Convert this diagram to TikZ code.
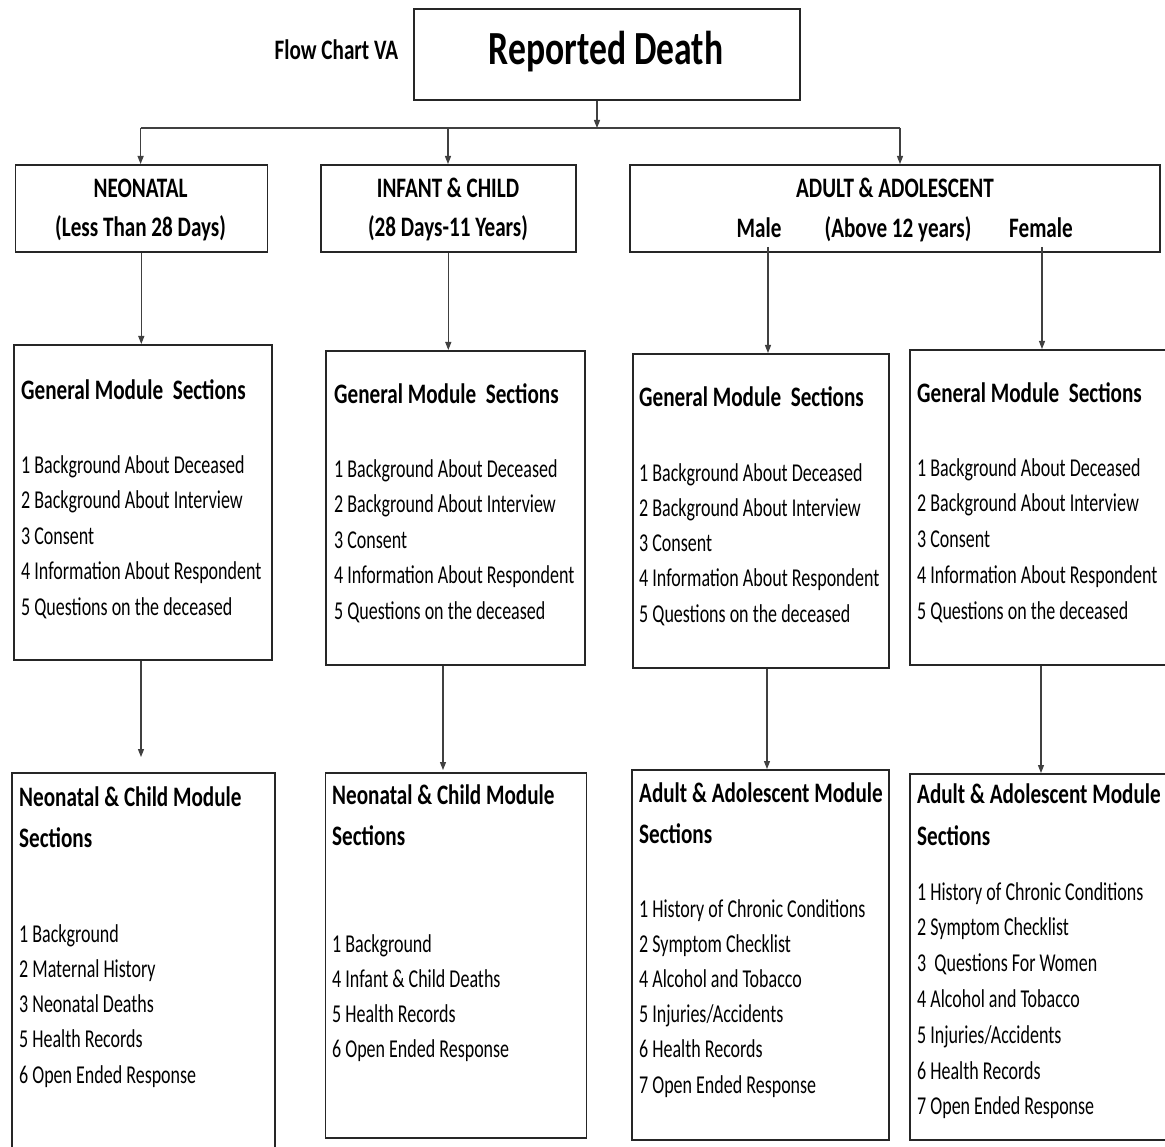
\documentclass[tikz,border=0pt]{standalone}
\usepackage{fontspec}
\setmainfont[FakeStretch=0.75]{Carlito}
\newfontfamily\itemfont[FakeStretch=0.70]{Carlito}
\usetikzlibrary{arrows.meta}
\tikzset{
  boxline/.style={draw=black!85, line width=1.6pt, inner sep=0pt, anchor=north west},
  conn/.style={draw=black!75, line width=1.1pt},
  arr/.style={conn, -{Triangle[length=8pt,width=6pt]}},
  itemtxt/.style={inner sep=0pt, anchor=base west, font=\itemfont\fontsize{25.7}{30}\selectfont},
  headtxt/.style={inner sep=0pt, anchor=base, font=\bfseries\fontsize{28.2}{34}\selectfont},
  titletxt/.style={inner sep=0pt, anchor=base west, font=\bfseries\fontsize{28.2}{34}\selectfont},
}
\newcommand\itemlist[5]{%
  \foreach \t [count=\i] in #5 {\node[itemtxt] (#1-\i) at ({#2},{#3+#4*(\i-1)}) {\t};}}
\def\gmitems{1 Background About Deceased, 2 Background About Interview, 3 Consent, 4 Information About Respondent, 5 Questions on the deceased}
\def\bitemsA{1 Background, 2 Maternal History, 3 Neonatal Deaths, 5 Health Records, 6 Open Ended Response}
\def\bitemsB{1 Background, 4 Infant \& Child Deaths, 5 Health Records, 6 Open Ended Response}
\def\bitemsC{1 History of Chronic Conditions, 2 Symptom Checklist, 4 Alcohol and Tobacco, 5 Injuries/Accidents, 6 Health Records, 7 Open Ended Response}
\def\bitemsD{1 History of Chronic Conditions, 2 Symptom Checklist, 3~ Questions For Women, 4 Alcohol and Tobacco, 5 Injuries/Accidents, 6 Health Records, 7 Open Ended Response}
\begin{document}
\begin{tikzpicture}[x=1pt,y=-1pt]
\useasboundingbox (0,0) rectangle (1165,1147);
\clip (0,0) rectangle (1165,1147);
\fill[white] (0,0) rectangle (1165,1147);
% boxes
\node[boxline, minimum width=386pt, minimum height=91pt] (rd) at (413,8) {};
\node[boxline, minimum width=252pt, minimum height=87pt] (neo) at (14.5,164) {};
\node[boxline, minimum width=255pt, minimum height=87pt] (inf) at (320,164) {};
\node[boxline, minimum width=530pt, minimum height=87pt] (adu) at (629,164) {};
\node[boxline, minimum width=258pt, minimum height=315pt] (gm1) at (13.4,344) {};
\node[boxline, minimum width=259pt, minimum height=314pt] (gm2) at (325,350) {};
\node[boxline, minimum width=256pt, minimum height=314pt] (gm3) at (632,353) {};
\node[boxline, minimum width=276pt, minimum height=315pt] (gm4) at (909,349) {};
\node[boxline, minimum width=263pt, minimum height=398pt] (b1) at (11,772) {};
\node[boxline, minimum width=261pt, minimum height=365pt] (b2) at (324.5,772) {};
\node[boxline, minimum width=257pt, minimum height=370pt] (b3) at (631,769) {};
\node[boxline, minimum width=276pt, minimum height=366pt] (b4) at (909,773) {};
% texts
\node[inner sep=0pt, anchor=base, font=\bfseries\fontsize{47.5}{56}\selectfont] (rdt) at (606,65) {Reported Death};
\node[headtxt] (fc) at (336.5,60) {Flow Chart VA};
\node[headtxt] (neo1) at (140.6,198) {NEONATAL};
\node[headtxt] (neo2) at (140.6,237) {(Less Than 28 Days)};
\node[headtxt] (inf1) at (448,198) {INFANT \& CHILD};
\node[headtxt] (inf2) at (448,237) {(28 Days-11 Years)};
\node[headtxt] (adu1) at (895,198) {ADULT \& ADOLESCENT};
\node[headtxt] (male) at (759,238) {Male};
\node[headtxt] (adu2) at (898,238) {(Above 12 years)};
\node[headtxt] (female) at (1041,238) {Female};
% general module titles and items
\node[titletxt] (gm1t) at (21,400) {General Module~ Sections};
\node[titletxt] (gm2t) at (334,404) {General Module~ Sections};
\node[titletxt] (gm3t) at (639,407) {General Module~ Sections};
\node[titletxt] (gm4t) at (917,403) {General Module~ Sections};
\itemlist{g1}{21}{473}{35.5}{\gmitems}
\itemlist{g2}{334}{477}{35.5}{\gmitems}
\itemlist{g3}{639}{481}{35.3}{\gmitems}
\itemlist{g4}{917}{476}{35.75}{\gmitems}
% bottom module titles and items
\node[titletxt] (b1t) at (19,806) {Neonatal \& Child Module};
\node[titletxt] (b1s) at (19,847) {Sections};
\node[titletxt] (b2t) at (332,804) {Neonatal \& Child Module};
\node[titletxt] (b2s) at (332,845) {Sections};
\node[titletxt] (b3t) at (639,802) {Adult \& Adolescent Module};
\node[titletxt] (b3s) at (639,843) {Sections};
\node[titletxt] (b4t) at (917,803) {Adult \& Adolescent Module};
\node[titletxt] (b4s) at (917,845) {Sections};
\itemlist{i1}{19}{942}{35.3}{\bitemsA}
\itemlist{i2}{332}{952}{35.3}{\bitemsB}
\itemlist{i3}{639}{917}{35.2}{\bitemsC}
\itemlist{i4}{917}{900}{35.8}{\bitemsD}
% connectors
\coordinate (j) at (597,128);
\coordinate (jl) at (140.6,128);
\coordinate (jm) at (448,128);
\coordinate (jr) at (900,128);
\draw[arr] (j |- rd.south) -- (j);
\draw[conn] (jl) -- (jr);
\draw[arr] (jl) -- (jl |- neo.north);
\draw[arr] (jm) -- (jm |- inf.north);
\draw[arr] (jr) -- (jr |- adu.north);
\draw[arr] (neo.south) -- (neo.south |- gm1.north);
\draw[arr] (inf.south) -- (inf.south |- gm2.north);
\coordinate (ml) at (768,247);
\coordinate (fl) at (1042,247);
\draw[arr] (ml) -- (ml |- gm3.north);
\draw[arr] (fl) -- (fl |- gm4.north);
\coordinate (t1) at (141,757);
\coordinate (t2) at (443,770);
\coordinate (t3) at (767,769);
\coordinate (t4) at (1041,773);
\draw[arr] (gm1.south -| t1) -- (t1);
\draw[arr] (gm2.south -| t2) -- (t2);
\draw[arr] (gm3.south -| t3) -- (t3);
\draw[arr] (gm4.south -| t4) -- (t4);
\end{tikzpicture}
\end{document}
